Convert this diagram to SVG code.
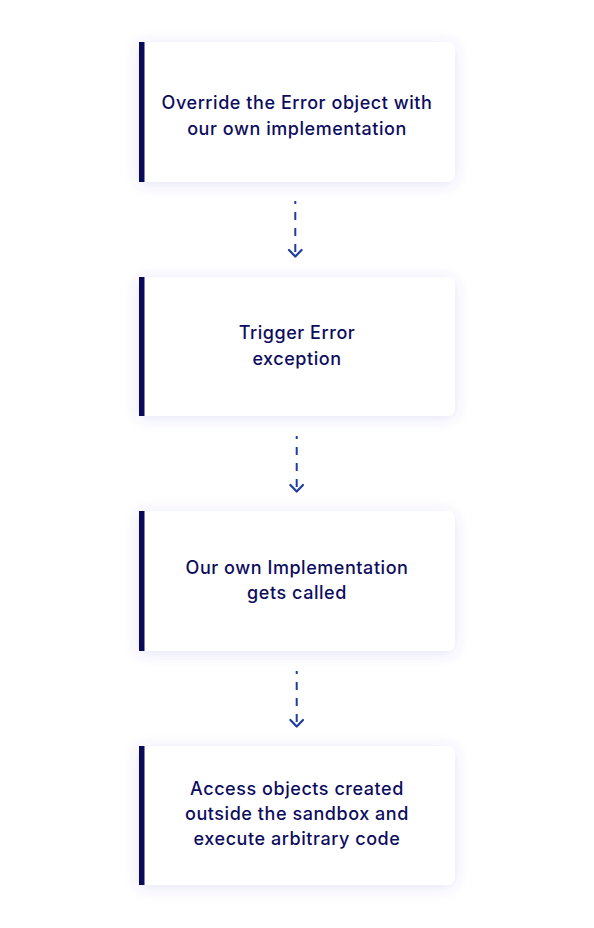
<svg xmlns="http://www.w3.org/2000/svg" width="594" height="928" viewBox="0 0 594 928">
<style>
.card{fill:#ffffff;filter:url(#sh)}
.bar{fill:#0a0a5a}
.lbl{font-family:Inter,"Noto Sans","Liberation Sans",sans-serif;font-size:18px;font-weight:500;letter-spacing:0.55px;fill:#0d0d5e;text-anchor:middle}
.conn{stroke:#1f3d9e;stroke-width:2;fill:none;stroke-dasharray:8 8}
.head{stroke:#1f3d9e;stroke-width:2.2;fill:none;stroke-linecap:round;stroke-linejoin:round}
</style>
<defs>
<filter id="sh" x="-20%" y="-30%" width="140%" height="160%">
<feDropShadow dx="0" dy="2" stdDeviation="7" flood-color="#5a4fd0" flood-opacity="0.16"/>
</filter>
</defs>
<rect width="594" height="928" fill="#ffffff"/>
<g id="connectors">
<g id="c1"><line class="conn" x1="295.3" y1="201" x2="295.3" y2="255" stroke-dashoffset="5"/><path class="head" d="M289 250 L295.3 256.5 L301.6 250"/></g>
<g id="c2"><line class="conn" x1="296.7" y1="436" x2="296.7" y2="490" stroke-dashoffset="5"/><path class="head" d="M290.4 485 L296.7 491.5 L303 485"/></g>
<g id="c3"><line class="conn" x1="296.7" y1="671" x2="296.7" y2="725" stroke-dashoffset="5"/><path class="head" d="M290.4 720 L296.7 726.5 L303 720"/></g>
</g>
<g id="n1">
<path class="card" d="M139 42 H447 A8 8 0 0 1 455 50 V174 A8 8 0 0 1 447 182 H139 Z"/>
<rect class="bar" x="139" y="42" width="5.5" height="140"/>
<text class="lbl" x="297" y="109">Override the Error object with</text>
<text class="lbl" x="297" y="134.5">our own implementation</text>
</g>
<g id="n2">
<path class="card" d="M139 277 H447 A8 8 0 0 1 455 285 V408 A8 8 0 0 1 447 416 H139 Z"/>
<rect class="bar" x="139" y="277" width="5.5" height="139"/>
<text class="lbl" x="297" y="339">Trigger Error</text>
<text class="lbl" x="297" y="364.5">exception</text>
</g>
<g id="n3">
<path class="card" d="M139 511 H447 A8 8 0 0 1 455 519 V643 A8 8 0 0 1 447 651 H139 Z"/>
<rect class="bar" x="139" y="511" width="5.5" height="140"/>
<text class="lbl" x="297" y="574">Our own Implementation</text>
<text class="lbl" x="297" y="599">gets called</text>
</g>
<g id="n4">
<path class="card" d="M139 746 H447 A8 8 0 0 1 455 754 V877 A8 8 0 0 1 447 885 H139 Z"/>
<rect class="bar" x="139" y="746" width="5.5" height="139"/>
<text class="lbl" x="297" y="794.5">Access objects created</text>
<text class="lbl" x="297" y="820">outside the sandbox and</text>
<text class="lbl" x="297" y="845">execute arbitrary code</text>
</g>
</svg>
